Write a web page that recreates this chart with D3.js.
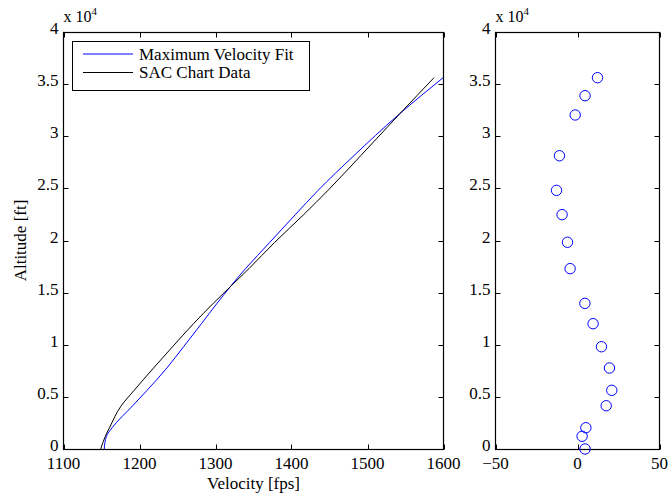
<!DOCTYPE html>
<html>
<head>
<meta charset="utf-8">
<script src="https://cdn.jsdelivr.net/npm/d3@7/dist/d3.min.js"></script>
<style>
  html, body { margin: 0; padding: 0; background: #fff; }
  svg { display: block; }
  text { font-family: "Liberation Serif", "Times New Roman", serif; fill: #000; }
</style>
</head>
<body>
<svg id="chart" width="668" height="495"></svg>
<script>
// Altitudes (ft) at which both velocity profiles are tabulated
const altitudes = [0, 1220, 2040, 4150, 5630, 7770, 9810, 12020, 13970, 17300,
                   19830, 22480, 24810, 28130, 32040, 33890, 35617];
// SAC chart velocities (fps)
const sacVelocity = [1149, 1155, 1160.5, 1176, 1193, 1218.5, 1243.5, 1271, 1297, 1344,
                     1378, 1416, 1448, 1491, 1541, 1565, 1587.5];
// Maximum-velocity fit (fps)
const fitVelocity = [1153.6, 1156.5, 1164, 1191, 1210, 1236, 1258, 1281.5, 1302, 1339.5,
                     1371.5, 1405, 1435, 1482, 1540.5, 1570.5, 1599.5];
// Fit minus chart (fps), shown in the right-hand panel
const velocityError = [4.6, 2.8, 5.1, 17.5, 20.9, 19.5, 14.6, 9.5, 4.5, -4.5,
                       -6.1, -9.4, -12.8, -11, -1.4, 4.6, 12.2];

const velocityTicks = [1100, 1200, 1300, 1400, 1500, 1600];
const errorTicks = [-50, 0, 50];
const altitudeTicks = [0, 5000, 10000, 15000, 20000, 25000, 30000, 35000, 40000];
const legendLabels = ["Maximum Velocity Fit", "SAC Chart Data"];

const svg = d3.select("#chart");
const FS = 17;
const plotTop = 32, plotBottom = 449;

const yScale = d3.scaleLinear().domain([0, 40000]).range([plotBottom, plotTop]);
const xLeft = d3.scaleLinear().domain([1100, 1600]).range([63.5, 443.5]);
const xRight = d3.scaleLinear().domain([-50, 50]).range([495.5, 659.5]);

function fmtAlt(v) { return d3.format("~g")(v / 10000); }

function drawAxesBox(x, xTicks) {
  const g = svg.append("g");
  const [x0, x1] = x.range();
  const tickLen = 5;
  // box
  g.append("rect")
    .attr("x", x0).attr("y", plotTop + 0.5)
    .attr("width", x1 - x0).attr("height", plotBottom - plotTop)
    .attr("fill", "none").attr("stroke", "#000").attr("stroke-width", 1.2);
  // x ticks, inward from bottom and top
  xTicks.forEach(t => {
    const px = Math.round(x(t)) + 0.5;
    g.append("line").attr("x1", px).attr("x2", px)
      .attr("y1", plotBottom + 0.5).attr("y2", plotBottom + 0.5 - tickLen).attr("stroke", "#000");
    g.append("line").attr("x1", px).attr("x2", px)
      .attr("y1", plotTop + 0.5).attr("y2", plotTop + 0.5 + tickLen).attr("stroke", "#000");
    g.append("text").attr("x", x(t)).attr("y", plotBottom + 20)
      .attr("text-anchor", "middle").attr("font-size", FS)
      .text(t < 0 ? "\u2212" + Math.abs(t) : t);
  });
  // y ticks, inward from left and right
  altitudeTicks.forEach(t => {
    const py = Math.round(yScale(t)) + 0.5;
    g.append("line").attr("x1", x0).attr("x2", x0 + tickLen)
      .attr("y1", py).attr("y2", py).attr("stroke", "#000");
    g.append("line").attr("x1", x1).attr("x2", x1 - tickLen)
      .attr("y1", py).attr("y2", py).attr("stroke", "#000");
    g.append("text").attr("x", x0 - 5).attr("y", yScale(t) + 2)
      .attr("text-anchor", "end").attr("font-size", FS)
      .text(fmtAlt(t));
  });
  // exponent label
  const ex = g.append("text").attr("x", x0).attr("y", 22).attr("font-size", FS - 1);
  ex.append("tspan").text("x 10");
  ex.append("tspan").attr("dy", -7).attr("font-size", 11).text("4");
  return g;
}

// Left panel: velocity profiles (velocity as a smooth function of altitude)
drawAxesBox(xLeft, velocityTicks);

const lineSac = d3.line()
  .curve(d3.curveMonotoneY)
  .x((d, i) => xLeft(sacVelocity[i]))
  .y((d, i) => yScale(altitudes[i]));
const lineFit = d3.line()
  .curve(d3.curveMonotoneY)
  .x((d, i) => xLeft(fitVelocity[i]))
  .y((d, i) => yScale(altitudes[i]));

svg.append("path").datum(altitudes).attr("d", lineFit)
  .attr("fill", "none").attr("stroke", "#0000ff").attr("stroke-width", 1);
svg.append("path").datum(altitudes).attr("d", lineSac)
  .attr("fill", "none").attr("stroke", "#000").attr("stroke-width", 1);

// Legend
const lg = svg.append("g");
lg.append("rect").attr("x", 72.5).attr("y", 41.5).attr("width", 237).attr("height", 49)
  .attr("fill", "#fff").attr("stroke", "#000").attr("stroke-width", 1);
const legendColors = ["#0000ff", "#000"];
legendLabels.forEach((lab, i) => {
  const yy = 54 + i * 18.5;
  lg.append("line").attr("x1", 83).attr("x2", 133).attr("y1", yy).attr("y2", yy)
    .attr("stroke", legendColors[i]).attr("stroke-width", 1);
  lg.append("text").attr("x", 139).attr("y", yy + 5.5).attr("font-size", FS).text(lab);
});

// Axis labels
svg.append("text").attr("x", (63.5 + 443.5) / 2).attr("y", 489)
  .attr("text-anchor", "middle").attr("font-size", FS).text("Velocity [fps]");
svg.append("text")
  .attr("transform", `translate(26,${(plotTop + plotBottom) / 2}) rotate(-90)`)
  .attr("text-anchor", "middle").attr("font-size", FS).text("Altitude [ft]");

// Right panel: fit error
drawAxesBox(xRight, errorTicks);
svg.append("g").selectAll("circle").data(altitudes).join("circle")
  .attr("cx", (d, i) => xRight(velocityError[i]))
  .attr("cy", d => yScale(d))
  .attr("r", 5.2)
  .attr("fill", "none").attr("stroke", "#0000ff").attr("stroke-width", 1);
</script>
</body>
</html>
